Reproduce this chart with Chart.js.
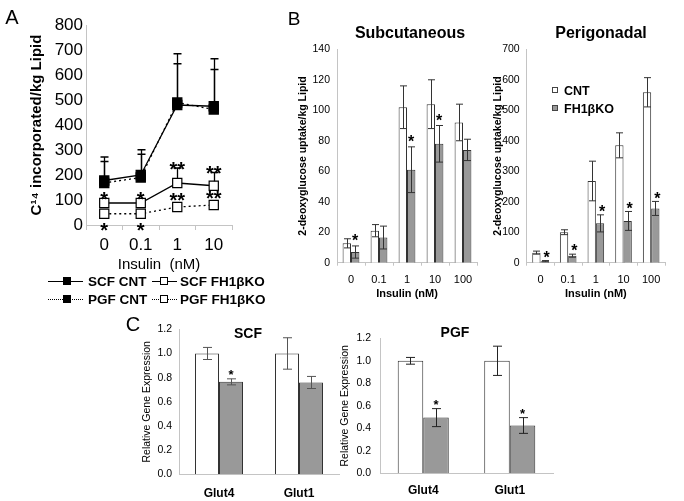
<!DOCTYPE html>
<html><head><meta charset="utf-8">
<script src="https://cdn.jsdelivr.net/npm/chart.js@4"></script>
<style>
body{margin:0;background:#fff;width:684px;height:501px;position:relative;overflow:hidden;font-family:"Liberation Sans",Arial,sans-serif;color:#000;}
canvas{position:absolute;}
.t{position:absolute;white-space:nowrap;line-height:1;transform:translate(-50%,-50%);}
.l{position:absolute;white-space:nowrap;line-height:1;transform:translateY(-50%);}
.ln{position:absolute;height:0;border-top:1.3px solid #000;}
.sq{position:absolute;box-sizing:border-box;border:1.2px solid #000;transform:translate(-50%,-50%);}
</style></head><body>
<canvas id="cA" width="245" height="275" style="left:0;top:0"></canvas>
<canvas id="cSub" width="195" height="285" style="left:290px;top:20px"></canvas>
<canvas id="cPeri" width="200" height="285" style="left:480px;top:20px"></canvas>
<canvas id="cScf" width="220" height="186" style="left:125px;top:315px"></canvas>
<canvas id="cPgf" width="240" height="186" style="left:325px;top:315px"></canvas>

<div class="t" style="left:12px;top:17px;font-size:20px">A</div>
<div class="t" style="left:294px;top:18px;font-size:19px">B</div>
<div class="t" style="left:133px;top:324px;font-size:20px">C</div>
<div class="t" style="left:410px;top:33px;font-size:16px;font-weight:bold">Subcutaneous</div>
<div class="t" style="left:601px;top:33px;font-size:16px;font-weight:bold">Perigonadal</div>
<div class="t" style="left:248px;top:333px;font-size:14px;font-weight:bold">SCF</div>
<div class="t" style="left:455px;top:332px;font-size:14px;font-weight:bold">PGF</div>

<!-- legend A -->
<div class="ln" style="left:48px;width:35px;top:281px"></div>
<div class="sq" style="left:67px;top:281px;width:8px;height:8px;background:#000"></div>
<div class="l" style="left:88px;top:282px;font-size:13.5px;font-weight:bold">SCF CNT</div>
<div class="ln" style="left:152px;width:25px;top:281px"></div>
<div class="sq" style="left:164px;top:281px;width:8px;height:8px;background:#fff"></div>
<div class="l" style="left:180px;top:282px;font-size:13.5px;font-weight:bold">SCF FH1βKO</div>
<div class="ln" style="left:48px;width:35px;top:299px;border-top:1.3px dotted #000"></div>
<div class="sq" style="left:67px;top:299px;width:8px;height:8px;background:#000"></div>
<div class="l" style="left:88px;top:300px;font-size:13.5px;font-weight:bold">PGF CNT</div>
<div class="ln" style="left:152px;width:25px;top:299px;border-top:1.3px dotted #000"></div>
<div class="sq" style="left:164px;top:299px;width:8px;height:8px;background:#fff"></div>
<div class="l" style="left:180px;top:300px;font-size:13.5px;font-weight:bold">PGF FH1βKO</div>

<!-- legend B -->
<div class="sq" style="left:555px;top:90px;width:6px;height:6px;background:#fff;border:1px solid #444"></div>
<div class="l" style="left:564px;top:91px;font-size:12.5px;font-weight:bold">CNT</div>
<div class="sq" style="left:555px;top:108px;width:6px;height:6px;background:#999;border:1px solid #444"></div>
<div class="l" style="left:564px;top:109px;font-size:12.5px;font-weight:bold">FH1βKO</div>

<script>
// ---------- Panel A : C14 incorporation ----------
const doseA = ['0', '0.1', '1', '10'];
const scfCnt = [178, 200, 480, 475];
const scfCntErr = [94, 101, 205, 190];
const pgfCnt = [168, 190, 490, 462];
const pgfCntErr = [86, 93, 155, 160];
const scfKo = [88, 88, 168, 157];
const scfKoErr = [0, 0, 60, 53];
const pgfKo = [45, 45, 72, 80];
const scfKoSig = ['*', '*', '**', '**'];
const pgfKoSig = ['*', '*', '**', '**'];
const pgfKoSigSide = ['below', 'below', 'above', 'above'];
const ticksA = [0, 100, 200, 300, 400, 500, 600, 700, 800];

// ---------- Panel B : 2-deoxyglucose uptake ----------
const doseB = ['0', '0.1', '1', '10', '100'];
const subCnt = [12.7, 21, 102, 104, 92];
const subCntErr = [3, 4, 14, 16, 12];
const subKo = [7, 16.5, 61, 78, 74];
const subKoErr = [4, 7.5, 15, 12, 7];
const subKoSig = ['*', '', '*', '*', ''];
const periCnt = [33, 100, 268, 385, 559];
const periCntErr = [5, 8, 65, 41, 48];
const periKo = [5, 23, 129, 137, 178];
const periKoErr = [2, 5, 28, 31, 23];
const periKoSig = ['*', '*', '*', '*', '*'];

// ---------- Panel C : gene expression ----------
const genes = ['Glut4', 'Glut1'];
const scfGeneCnt = [1.0, 1.0];
const scfGeneCntErr = [0.05, 0.13];
const scfGeneKo = [0.765, 0.76];
const scfGeneKoErr = [0.025, 0.05];
const scfGeneSig = ['*', ''];
const pgfGeneCnt = [1.0, 1.0];
const pgfGeneCntErr = [0.03, 0.13];
const pgfGeneKo = [0.495, 0.425];
const pgfGeneKoErr = [0.08, 0.07];
const pgfGeneSig = ['*', '*'];

const FONT = '"Liberation Sans", Arial, sans-serif';
Chart.defaults.font.family = FONT;
Chart.defaults.color = '#000';
Chart.defaults.animation = false;
Chart.defaults.plugins.legend.display = false;
Chart.defaults.plugins.tooltip.enabled = false;

function drawErr(chart, e) {
  const ctx = chart.ctx, ys = chart.scales.y;
  const meta = chart.getDatasetMeta(e.ds), vals = chart.data.datasets[e.ds].data;
  ctx.save();
  ctx.strokeStyle = e.color; ctx.lineWidth = e.width || 1;
  meta.data.forEach((el, i) => {
    const d = e.values[i]; if (!d) return;
    const x = Math.round(el.x) + 0.5;
    const t = ys.getPixelForValue(vals[i] + d);
    const b = e.upOnly ? ys.getPixelForValue(vals[i]) : ys.getPixelForValue(vals[i] - d);
    ctx.beginPath();
    ctx.moveTo(x, t); ctx.lineTo(x, b);
    ctx.moveTo(x - e.cap, t); ctx.lineTo(x + e.cap, t);
    if (!e.upOnly) { ctx.moveTo(x - e.cap, b); ctx.lineTo(x + e.cap, b); }
    ctx.stroke();
  });
  ctx.restore();
}
function drawSig(chart, s) {
  const ctx = chart.ctx, ys = chart.scales.y;
  const meta = chart.getDatasetMeta(s.ds), vals = chart.data.datasets[s.ds].data;
  ctx.save();
  ctx.fillStyle = '#000';
  ctx.font = 'bold ' + s.size + 'px ' + FONT;
  ctx.textAlign = 'center'; ctx.textBaseline = 'alphabetic';
  meta.data.forEach((el, i) => {
    const m = s.marks[i]; if (!m) return;
    const err = s.err ? (s.err[i] || 0) : 0;
    const half = s.half || 0;
    const side = s.side ? s.side[i] : 'above';
    let cy;
    if (side === 'below') cy = ys.getPixelForValue(vals[i]) + half + s.gap;
    else cy = Math.min(ys.getPixelForValue(vals[i] + err), ys.getPixelForValue(vals[i]) - half) - s.gap;
    ctx.fillText(m, el.x + (s.dx || 0), cy + 0.575 * s.size);
  });
  ctx.restore();
}
function makeAnnot(cfg) {
  return {
    id: 'annot',
    beforeDatasetsDraw(chart) { (cfg.err || []).filter(e => e.behind).forEach(e => drawErr(chart, e)); },
    afterDatasetsDraw(chart) {
      (cfg.err || []).filter(e => !e.behind).forEach(e => drawErr(chart, e));
      (cfg.sig || []).forEach(s => drawSig(chart, s));
    }
  };
}
const AX = '#c4c4c4';

// ---------- Chart A ----------
function lineDs(label, data, filled, dashed) {
  return {
    label, data, borderColor: '#000', borderWidth: 1.3, borderDash: dashed ? [2, 3] : [],
    pointStyle: 'rect', pointRadius: 6.5, pointBorderWidth: 1.2,
    pointBackgroundColor: filled ? '#000' : '#fff', pointBorderColor: '#000',
    backgroundColor: filled ? '#000' : '#fff', tension: 0, fill: false
  };
}
new Chart(document.getElementById('cA'), {
  type: 'line',
  data: {
    labels: doseA,
    datasets: [
      lineDs('SCF CNT', scfCnt, true, false),
      lineDs('PGF CNT', pgfCnt, true, true),
      lineDs('SCF FH1βKO', scfKo, false, false),
      lineDs('PGF FH1βKO', pgfKo, false, true)
    ]
  },
  options: {
    responsive: false,
    layout: { padding: { top: 25, left: 0, right: 13, bottom: 0 } },
    scales: {
      x: {
        offset: true,
        grid: { display: true, drawOnChartArea: false, offset: true, tickLength: 5, color: AX },
        border: { color: AX },
        ticks: { font: { size: 17 }, padding: 5, maxRotation: 0 },
        title: { display: true, text: 'Insulin  (nM)', font: { size: 15 }, padding: { top: 0, bottom: 1 } },
        afterFit: s => { s.height = 50; }
      },
      y: {
        min: 0, max: 800,
        afterBuildTicks: s => { s.ticks = ticksA.map(v => ({ value: v })); },
        grid: { display: false, drawTicks: false, tickLength: 0 },
        border: { color: AX },
        ticks: { font: { size: 17 }, padding: 3 },
        title: { display: true, text: 'C¹⁴ incorporated/kg Lipid', font: { size: 15, weight: 'bold' }, padding: { top: 28, bottom: 0 } },
        afterFit: s => { s.width = 86; }
      }
    }
  },
  plugins: [makeAnnot({
    err: [
      { ds: 0, values: scfCntErr, upOnly: true, cap: 4, color: '#000', width: 1.3, behind: true },
      { ds: 1, values: pgfCntErr, upOnly: true, cap: 4, color: '#000', width: 1.3, behind: true },
      { ds: 2, values: scfKoErr, upOnly: true, cap: 4, color: '#000', width: 1.3, behind: true }
    ],
    sig: [
      { ds: 2, marks: scfKoSig, err: scfKoErr, half: 4.6, gap: 4, size: 20 },
      { ds: 3, marks: pgfKoSig, side: pgfKoSigSide, half: 4.6, gap: 7, size: 20 }
    ]
  })]
});

// ---------- Bar charts ----------
function barChart(id, labels, cnt, ko, o) {
  return new Chart(document.getElementById(id), {
    type: 'bar',
    data: {
      labels,
      datasets: [
        { label: 'CNT', data: cnt, backgroundColor: '#ffffff', borderColor: '#333', borderWidth: 1, categoryPercentage: o.cp, barPercentage: 1 },
        { label: 'FH1βKO', data: ko, backgroundColor: '#999999', borderColor: '#333', borderWidth: 1, categoryPercentage: o.cp, barPercentage: 1 }
      ]
    },
    options: {
      responsive: false,
      layout: { padding: o.pad },
      scales: {
        x: {
          grid: { display: o.xTicks, drawOnChartArea: false, offset: true, tickLength: 3, color: AX },
          border: { color: AX },
          ticks: { font: o.xFont, padding: o.xPad, maxRotation: 0 },
          title: o.xTitle ? { display: true, text: o.xTitle, font: { size: 11, weight: 'bold' }, padding: { top: 0, bottom: 4 } } : { display: false },
          afterFit: s => { s.height = o.xH; }
        },
        y: {
          min: 0, max: o.max,
          ticks: { stepSize: o.step, font: { size: o.yFont }, padding: o.yPad, callback: o.fmt || (v => v) },
          grid: { display: false, drawTicks: false, tickLength: 0 },
          border: { color: AX },
          title: { display: true, text: o.yTitle, font: o.yTitleFont, padding: { top: o.yTitlePad, bottom: 0 } },
          afterFit: s => { s.width = o.yW; }
        }
      }
    },
    plugins: [makeAnnot({
      err: [
        { ds: 0, values: o.cntErr, cap: o.cap, color: o.errColor, width: 1 },
        { ds: 1, values: o.koErr, cap: o.cap, color: o.errColor, width: 1 }
      ],
      sig: [{ ds: 1, marks: o.sig, err: o.koErr, gap: o.sigGap, size: o.sigSize, dx: o.sigDx || 0 }]
    })]
  });
}

barChart('cSub', doseB, subCnt, subKo, {
  cp: 0.6, pad: { top: 29.3, left: 0, right: 8, bottom: 0 }, xTicks: true,
  xFont: { size: 11 }, xPad: 8, xTitle: 'Insulin (nM)', xH: 42.3,
  max: 140, step: 20, yFont: 10.5, yPad: 7, yTitle: '2-deoxyglucose uptake/kg Lipid',
  yTitleFont: { size: 10.5, weight: 'bold' }, yTitlePad: 7, yW: 47,
  cntErr: subCntErr, koErr: subKoErr, cap: 3.5, errColor: '#333',
  sig: subKoSig, sigGap: 9, sigSize: 16
});
barChart('cPeri', doseB, periCnt, periKo, {
  cp: 0.6, pad: { top: 29.3, left: 0, right: 15, bottom: 0 }, xTicks: true,
  xFont: { size: 11 }, xPad: 8, xTitle: 'Insulin (nM)', xH: 42.3,
  max: 700, step: 100, yFont: 10.5, yPad: 7, yTitle: '2-deoxyglucose uptake/kg Lipid',
  yTitleFont: { size: 10.5, weight: 'bold' }, yTitlePad: 12, yW: 46.7,
  cntErr: periCntErr, koErr: periKoErr, cap: 3.5, errColor: '#333',
  sig: periKoSig, sigGap: 7, sigSize: 16, sigDx: 2
});
barChart('cScf', genes, scfGeneCnt, scfGeneKo, {
  cp: 0.6, pad: { top: 14.3, left: 0, right: 6, bottom: 0 }, xTicks: false,
  xFont: { size: 12, weight: 'bold' }, xPad: 9, xTitle: null, xH: 26.7,
  max: 1.2, step: 0.2, yFont: 10.5, yPad: 7, fmt: v => Number(v).toFixed(1), yTitle: 'Relative Gene Expression',
  yTitleFont: { size: 10.5 }, yTitlePad: 15.5, yW: 54,
  cntErr: scfGeneCntErr, koErr: scfGeneKoErr, cap: 4.5, errColor: '#555',
  sig: scfGeneSig, sigGap: 7, sigSize: 13
});
barChart('cPgf', genes, pgfGeneCnt, pgfGeneKo, {
  cp: 0.59, pad: { top: 23.3, left: 0, right: 12, bottom: 0 }, xTicks: false,
  xFont: { size: 12, weight: 'bold' }, xPad: 7, xTitle: null, xH: 27.7,
  max: 1.2, step: 0.2, yFont: 10.5, yPad: 9, fmt: v => Number(v).toFixed(1), yTitle: 'Relative Gene Expression',
  yTitleFont: { size: 10.5 }, yTitlePad: 14, yW: 55,
  cntErr: pgfGeneCntErr, koErr: pgfGeneKoErr, cap: 4.5, errColor: '#222',
  sig: pgfGeneSig, sigGap: 7, sigSize: 13
});
</script>
</body></html>
